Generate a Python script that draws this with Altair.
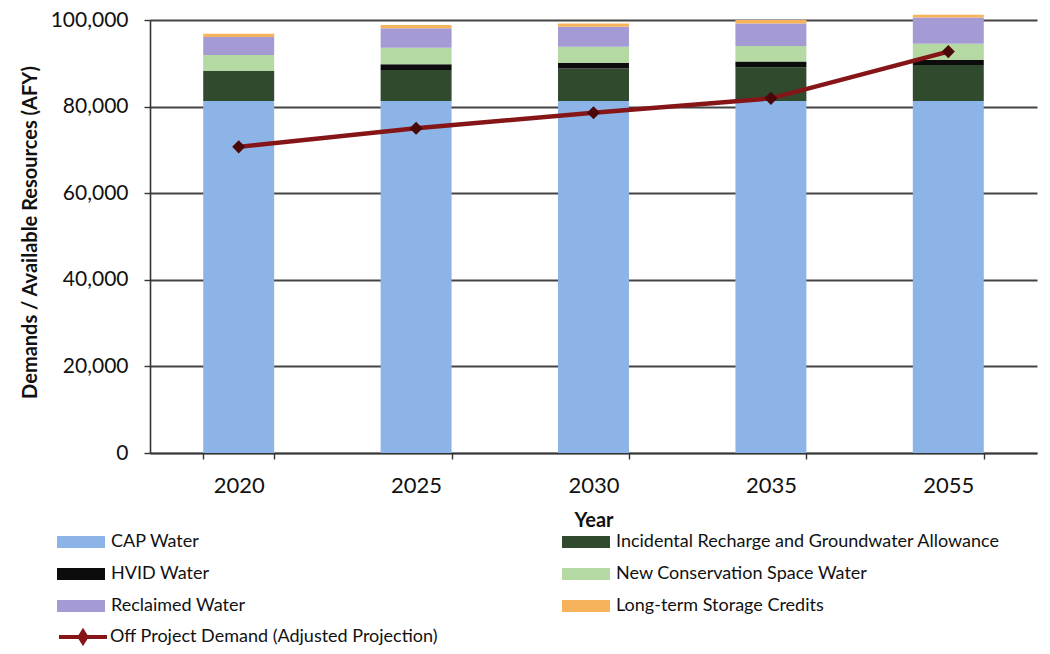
import altair as alt
import pandas as pd

years = ["2020", "2025", "2030", "2035", "2055"]
sources = [
    "CAP Water",
    "Incidental Recharge and Groundwater Allowance",
    "HVID Water",
    "New Conservation Space Water",
    "Reclaimed Water",
    "Long-term Storage Credits",
]
cap = [81300, 81300, 81300, 81300, 81300]
incidental = [7000, 7150, 7500, 7800, 8300]
hvid = [0, 1350, 1300, 1300, 1200]
ncs = [3600, 3800, 3700, 3600, 3700]
reclaimed = [4200, 4500, 4650, 5200, 6100]
ltsc = [700, 750, 750, 800, 600]
demand = [70700, 75000, 78600, 81900, 92700]
demand_name = "Off Project Demand (Adjusted Projection)"
colors = ["#8db4e6", "#2f4a2c", "#0c0c0c", "#b4d9a2", "#a49bd5", "#f6b35c"]

series = [cap, incidental, hvid, ncs, reclaimed, ltsc]
rows = []
for k, (name, vals) in enumerate(zip(sources, series)):
    for y, v in zip(years, vals):
        rows.append({"Year": y, "Source": name, "Value": v, "Order": k})
bars_df = pd.DataFrame(rows)
line_df = pd.DataFrame({"Year": years, "Demand": demand, "Series": [demand_name] * len(years)})

FONT = "Lato"

x_enc = alt.X(
    "Year:N",
    sort=years,
    scale=alt.Scale(paddingInner=0.6, paddingOuter=0.3),
    axis=alt.Axis(
        title="Year",
        labelAngle=0,
        tickBand="extent",
        grid=False,
        tickSize=6,
        labelPadding=16,
        labelFontSize=22,
        titleFontSize=20,
        titleFontWeight="bold",
        titlePadding=14,
    ),
)

y_scale = alt.Scale(domain=[0, 100000], nice=False)

bars = alt.Chart(bars_df).mark_bar().encode(
    x=x_enc,
    y=alt.Y(
        "Value:Q",
        stack="zero",
        scale=y_scale,
        axis=alt.Axis(
            title="Demands / Available Resources (AFY)",
            values=[0, 20000, 40000, 60000, 80000, 100000],
            format=",d",
            tickSize=6,
            labelPadding=16,
            labelFontSize=21,
            titleFontSize=20,
            titleFontWeight="bold",
            titlePadding=10,
            titleY=212,
            gridColor="#444444",
            gridWidth=1.8,
        ),
    ),
    color=alt.Color(
        "Source:N",
        scale=alt.Scale(domain=sources, range=colors),
        legend=alt.Legend(
            title=None,
            orient="none",
            legendX=-81,
            legendY=510,
            direction="horizontal",
            columns=2,
            gridAlign="each",
            columnPadding=316,
            rowPadding=11,
            symbolType="M-2,-0.5H2V0.5H-2Z",
            symbolSize=576,
            symbolStrokeWidth=0,
            labelFontSize=18,
            labelOffset=18,
            labelLimit=600,
        ),
    ),
    order=alt.Order("Order:Q", sort="ascending"),
)

line = alt.Chart(line_df).mark_line(strokeWidth=4.5).encode(
    x=alt.X("Year:N", sort=years),
    y=alt.Y("Demand:Q", scale=y_scale),
    stroke=alt.Stroke(
        "Series:N",
        scale=alt.Scale(domain=[demand_name], range=["#861518"]),
        legend=alt.Legend(
            title=None,
            orient="none",
            legendX=-81,
            legendY=603,
            symbolType="M-2,0H2M0,-0.45L0.28,0L0,0.45L-0.28,0Z",
            symbolSize=576,
            symbolStrokeWidth=4,
            symbolFillColor="#4a0808",
            labelFontSize=18,
            labelOffset=13,
            labelLimit=600,
        ),
    ),
)

points = alt.Chart(line_df).mark_point(shape="diamond", filled=True, size=170, color="#4a0808", opacity=1).encode(
    x=alt.X("Year:N", sort=years),
    y=alt.Y("Demand:Q", scale=y_scale),
)

chart = (
    alt.layer(bars, line, points)
    .properties(
        width=887,
        height=433,
        autosize=alt.AutoSizeParams(type="none"),
        padding={"left": 142, "top": 12, "right": 5, "bottom": 193},
    )
    .configure(font=FONT)
    .configure_view(stroke=None)
    .configure_axis(
        domainColor="#333333",
        domainWidth=1.6,
        tickColor="#333333",
        tickWidth=1.4,
        labelColor="#111111",
        titleColor="#111111",
        labelFont=FONT,
        titleFont=FONT,
    )
    .configure_legend(labelFont=FONT, labelColor="#111111")
)

chart.save("out.html", embed_options={"renderer": "svg", "actions": False})
